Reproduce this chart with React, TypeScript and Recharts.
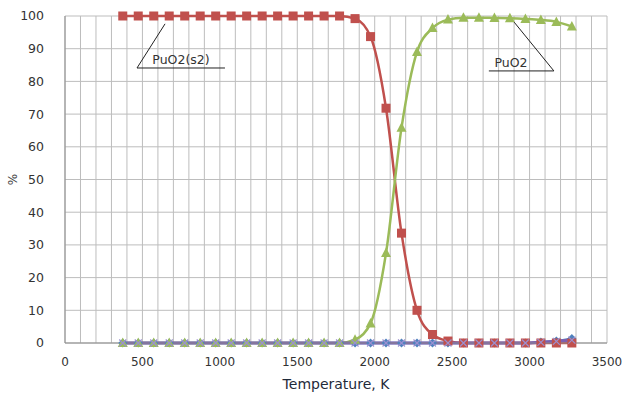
import React from "react";
import {
  LineChart,
  Line,
  XAxis,
  YAxis,
  CartesianGrid,
  ReferenceLine,
  ReferenceDot,
} from "recharts";

// temperatures, K
const temps = [
  373, 473, 573, 673, 773, 873, 973, 1073, 1173, 1273, 1373, 1473, 1573, 1673, 1773,
  1873, 1973, 2073, 2173, 2273, 2373, 2473, 2573, 2673, 2773, 2873, 2973, 3073, 3173, 3273,
];

// % of each species
const puo2s2 = [
  100, 100, 100, 100, 100, 100, 100, 100, 100, 100, 100, 100, 100, 100, 100,
  99.2, 93.7, 71.8, 33.6, 10, 2.6, 0.6, 0, 0, 0, 0, 0, 0, 0, 0,
];
const puo2 = [
  0, 0, 0, 0, 0, 0, 0, 0, 0, 0, 0, 0, 0, 0, 0,
  1.0, 6.0, 27.5, 65.8, 89, 96.3, 98.9, 99.5, 99.5, 99.4, 99.3, 99.1, 98.8, 98.2, 96.8,
];
const puo = [
  0, 0, 0, 0, 0, 0, 0, 0, 0, 0, 0, 0, 0, 0, 0,
  0, 0, 0, 0, 0, 0, 0, 0, 0, 0, 0, 0, 0.3, 0.6, 1.4,
];
const pu = [
  0, 0, 0, 0, 0, 0, 0, 0, 0, 0, 0, 0, 0, 0, 0,
  0, 0, 0, 0, 0, 0, 0, 0, 0, 0, 0, 0, 0.2, 0.5, 0.9,
];

const yTicks = [0, 10, 20, 30, 40, 50, 60, 70, 80, 90, 100];
const xGrid = Array.from({ length: 36 }, (_, i) => i * 100);

const data = temps.map((t, i) => ({
  t,
  puo: puo[i],
  puo2s2: puo2s2[i],
  puo2: puo2[i],
  pu: pu[i],
}));

const RED = "#C0504D";
const GREEN = "#9BBB59";
const BLUE = "#4F81BD";
const PURPLE = "#7d5fb0";
const FONT = "DejaVu Sans";

const square = (p: any) => (
  <rect key={`s${p.index}`} x={p.cx - 4.5} y={p.cy - 4.5} width={9} height={9} fill={RED} />
);
const triangle = (p: any) => (
  <path
    key={`t${p.index}`}
    d={`M${p.cx},${p.cy - 5.5}L${p.cx + 5},${p.cy + 4}L${p.cx - 5},${p.cy + 4}Z`}
    fill={GREEN}
  />
);
const diamond = (p: any) => (
  <path
    key={`d${p.index}`}
    d={`M${p.cx},${p.cy - 4.5}L${p.cx + 4.5},${p.cy}L${p.cx},${p.cy + 4.5}L${p.cx - 4.5},${p.cy}Z`}
    fill={BLUE}
  />
);
const cross = (p: any) => (
  <path
    key={`x${p.index}`}
    d={`M${p.cx - 3.5},${p.cy - 3.5}L${p.cx + 3.5},${p.cy + 3.5}M${p.cx + 3.5},${p.cy - 3.5}L${p.cx - 3.5},${p.cy + 3.5}`}
    stroke="#9b8fd0"
    strokeWidth={1.2}
    fill="none"
  />
);

const note = (label: string) => (p: any) =>
  (
    <text x={p.cx} y={p.cy} fontFamily={FONT} fontSize={12.5} fill="#333" textAnchor="middle">
      {label}
    </text>
  );

export default function App() {
  return (
    <div style={{ position: "absolute", left: 0, top: 0 }}>
      <LineChart width={624} height={393} data={data} margin={{ top: 16, right: 17, left: 0, bottom: 0 }}>
        <CartesianGrid stroke="#bdbdbd" />
        <XAxis
          dataKey="t"
          type="number"
          domain={[0, 3500]}
          ticks={xGrid}
          interval={0}
          tickFormatter={(v: number) => (v % 500 === 0 ? String(v) : "")}
          tickLine={false}
          axisLine={{ stroke: "#8c8c8c" }}
          tick={{ fontFamily: FONT, fontSize: 12, fill: "#333" }}
          tickMargin={8}
          height={50}
          label={{
            value: "Temperature, K",
            position: "insideBottom",
            offset: 4,
            style: { fontFamily: FONT, fontSize: 14, fill: "#1f2a3a" },
          }}
        />
        <YAxis
          type="number"
          domain={[0, 100]}
          ticks={yTicks}
          interval={0}
          tickLine={false}
          axisLine={{ stroke: "#8c8c8c" }}
          tick={{ fontFamily: FONT, fontSize: 12.5, fill: "#333" }}
          tickMargin={15}
          width={65}
          label={{
            value: "%",
            angle: -90,
            position: "insideLeft",
            offset: 13,
            style: { fontFamily: FONT, fontSize: 12, fill: "#404040", textAnchor: "middle" },
          }}
        />
        <Line dataKey="puo" type="monotone" stroke={BLUE} strokeWidth={2.5} dot={diamond} isAnimationActive={false} />
        <Line dataKey="puo2s2" type="monotone" stroke={RED} strokeWidth={2.5} dot={square} isAnimationActive={false} />
        <Line dataKey="puo2" type="monotone" stroke={GREEN} strokeWidth={2.5} dot={triangle} isAnimationActive={false} />
        <Line dataKey="pu" type="monotone" stroke={PURPLE} strokeWidth={3} dot={cross} isAnimationActive={false} />

        <ReferenceLine segment={[{ x: 465, y: 84.1 }, { x: 646, y: 97.6 }]} stroke="#222" strokeWidth={1} ifOverflow="visible" />
        <ReferenceLine segment={[{ x: 465, y: 84.1 }, { x: 1033, y: 84.1 }]} stroke="#222" strokeWidth={1} ifOverflow="visible" />
        <ReferenceDot x={749} y={85.2} r={0} shape={note("PuO2(s2)")} ifOverflow="visible" />

        <ReferenceLine segment={[{ x: 2737, y: 83.2 }, { x: 3157, y: 83.2 }]} stroke="#222" strokeWidth={1} ifOverflow="visible" />
        <ReferenceLine segment={[{ x: 3157, y: 83.2 }, { x: 2899, y: 98.2 }]} stroke="#222" strokeWidth={1} ifOverflow="visible" />
        <ReferenceDot x={2880} y={84.3} r={0} shape={note("PuO2")} ifOverflow="visible" />
      </LineChart>
    </div>
  );
}
